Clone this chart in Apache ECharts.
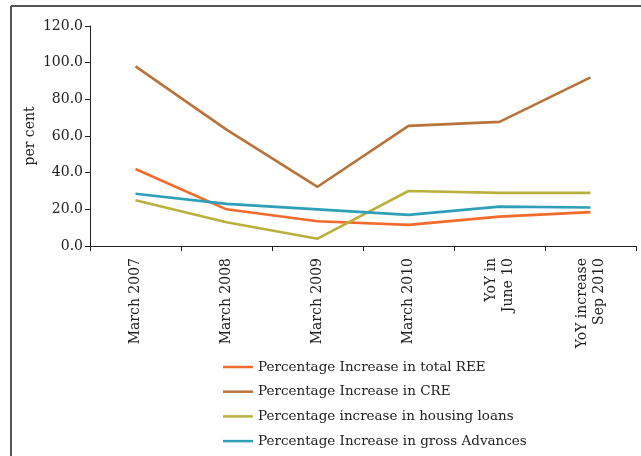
<!DOCTYPE html>
<html>
<head>
<meta charset="utf-8">
<script src="https://cdn.jsdelivr.net/npm/echarts@6/dist/echarts.min.js"></script>
<style>
  html, body { margin: 0; padding: 0; background: #fff; }
  #chart { width: 641px; height: 456px; }
</style>
</head>
<body>
<div id="chart"></div>
<script>
// Periods on the x axis
const categories = ['March 2007', 'March 2008', 'March 2009', 'March 2010', 'YoY in\nJune 10', 'YoY increase\nSep 2010'];

// Growth rates, per cent
const totalREE = [42.0, 20.0, 13.5, 11.5, 16.0, 18.5];
const cre = [98.0, 63.5, 32.3, 65.5, 67.7, 92.0];
const housingLoans = [25.0, 13.0, 4.0, 30.0, 29.0, 29.0];
const grossAdvances = [28.5, 23.0, 20.0, 17.0, 21.5, 21.0];

const seriesNames = [
  'Percentage Increase in total REE',
  'Percentage Increase in CRE',
  'Percentage increase in housing loans',
  'Percentage Increase in gross Advances'
];
const seriesColors = ['#f26b2a', '#b8733a', '#b9b03e', '#2e9fb6'];
const seriesData = [totalREE, cre, housingLoans, grossAdvances];

const font = 'DejaVu Serif';
const chart = echarts.init(document.getElementById('chart'), null, { renderer: 'canvas' });

chart.setOption({
  animation: false,
  backgroundColor: '#fff',
  textStyle: { fontFamily: font, color: '#222' },
  graphic: [
    { type: 'line', shape: { x1: 11, y1: 6, x2: 660, y2: 6 }, style: { stroke: '#555', lineWidth: 2 } },
    { type: 'line', shape: { x1: 11, y1: 6, x2: 11, y2: 470 }, style: { stroke: '#555', lineWidth: 2 } }
  ],
  grid: { left: 90, right: 5, top: 26, bottom: 210, containLabel: false },
  legend: {
    orient: 'vertical',
    left: 218,
    top: 355,
    itemWidth: 30,
    itemHeight: 14,
    itemGap: 10.7,
    icon: 'path://M0,6 L30,6 L30,8.5 L0,8.5 Z',
    textStyle: { fontFamily: font, fontSize: 13.5, color: '#222' },
    data: seriesNames
  },
  xAxis: {
    type: 'category',
    data: categories,
    boundaryGap: true,
    axisLine: { lineStyle: { color: '#222', width: 1 } },
    axisTick: { show: true, length: 5, lineStyle: { color: '#222' } },
    axisLabel: {
      rotate: 90,
      interval: 0,
      margin: 12,
      fontFamily: font,
      fontSize: 14,
      color: '#222',
      lineHeight: 17
    }
  },
  yAxis: {
    type: 'value',
    min: 0,
    max: 120,
    interval: 20,
    name: 'per cent',
    nameLocation: 'middle',
    nameGap: 53,
    nameMoveOverlap: false,
    nameRotate: 90,
    nameTextStyle: { fontFamily: font, fontSize: 14, color: '#222' },
    axisLine: { show: true, lineStyle: { color: '#222', width: 1 } },
    axisTick: { show: true, length: 5, lineStyle: { color: '#222' } },
    splitLine: { show: false },
    axisLabel: {
      fontFamily: font,
      fontSize: 14,
      color: '#222',
      margin: 7,
      formatter: v => v.toFixed(1)
    }
  },
  series: seriesData.map((d, i) => ({
    name: seriesNames[i],
    type: 'line',
    data: d,
    symbol: 'none',
    lineStyle: { color: seriesColors[i], width: 2.6 },
    itemStyle: { color: seriesColors[i] }
  }))
});
</script>
</body>
</html>
